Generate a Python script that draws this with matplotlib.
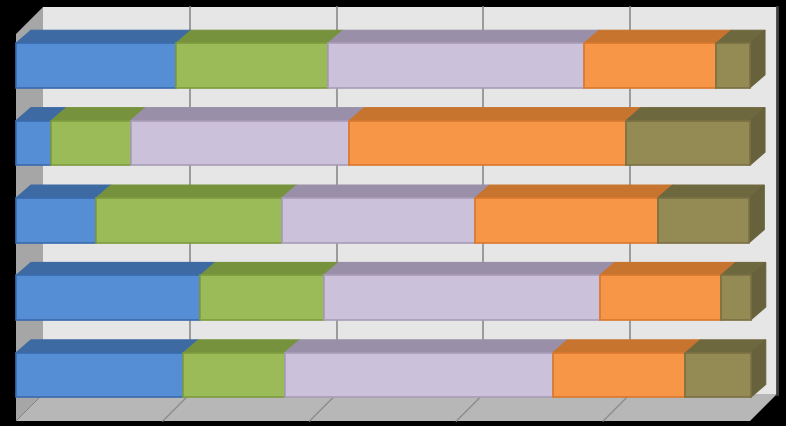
import matplotlib
matplotlib.use("Agg")
import matplotlib.pyplot as plt
from matplotlib.patches import Polygon
import numpy as np

# Rows listed top to bottom as displayed (percent shares, 100% stacked)
categories = ["Row 1", "Row 2", "Row 3", "Row 4", "Row 5"]
series_a = [21.8, 4.8, 10.9, 25.1, 22.8]
series_b = [20.7, 10.8, 25.3, 16.8, 13.8]
series_c = [34.9, 29.8, 26.3, 37.6, 36.5]
series_d = [18.0, 37.7, 24.9, 16.5, 18.1]
series_e = [4.6, 16.9, 12.5, 4.1, 8.9]
series = [series_a, series_b, series_c, series_d, series_e]

front_colors = ["#558ED5", "#9BBB59", "#CCC1DA", "#F79646", "#948A54"]
top_colors = ["#3D6AA3", "#76923C", "#9A8FA8", "#C7742F", "#6E683F"]
side_colors = ["#3A649A", "#6E8A37", "#8F859C", "#B86A2A", "#68623C"]
edge_colors = ["#3A6AAE", "#7E9C3E", "#A99DB9", "#D9792E", "#7A7042"]

W, H = 786, 427
fig = plt.figure(figsize=(W / 100, H / 100), dpi=100)
fig.patch.set_facecolor("black")
ax = fig.add_axes([0, 0, 1, 1])
ax.set_facecolor("black")
ax.axis("off")

# Scales: x in percent, y in category index (0 = top)
px_per_x = 7.34
x0_px = 16
xmin = -x0_px / px_per_x
ax.set_xlim(xmin, xmin + W / px_per_x)
row_step = 77.4
y0_px = 66.5
ax.set_ylim((H - y0_px) / row_step, -y0_px / row_step)

def dxu(px):
    return px / px_per_x

def dyu(px):
    return px / row_step

# Walls
wdx, wdy = dxu(27), dyu(27)
floor_front = (422 - y0_px) / row_step
wall_top_front = (35 - y0_px) / row_step
back_bottom = floor_front - wdy
back_top = wall_top_front - wdy

# back wall
ax.add_patch(Polygon([(wdx, back_top), (100 + wdx, back_top), (100 + wdx, back_bottom), (wdx, back_bottom)],
                     closed=True, facecolor="#E6E6E6", edgecolor="none", zorder=1))
# left wall
ax.add_patch(Polygon([(0, wall_top_front), (wdx, back_top), (wdx, back_bottom), (0, floor_front)],
                     closed=True, facecolor="#A6A6A6", edgecolor="none", zorder=1))
# floor
ax.add_patch(Polygon([(0, floor_front), (wdx, back_bottom), (100 + wdx, back_bottom), (100, floor_front)],
                     closed=True, facecolor="#B7B7B7", edgecolor="none", zorder=1))
# right edge of back wall
ax.plot([100 + wdx, 100 + wdx], [back_top, back_bottom], color="#404040", lw=2, zorder=1.5)

# gridlines
for g in [20, 40, 60, 80]:
    ax.plot([g + wdx, g + wdx], [back_top, back_bottom], color="#8C8C8C", lw=1.2, zorder=1.5)
    ax.plot([g + wdx, g], [back_bottom, floor_front], color="#8C8C8C", lw=1.0, zorder=1.5)

# bars
bh = 44.5 / row_step
bdx, bdy = dxu(15), dyu(13)
for i in range(len(categories)):
    yc = i
    ytop, ybot = yc - bh / 2, yc + bh / 2
    left = 0.0
    n = len(series)
    for k in range(n):
        v = series[k][i]
        right = left + v
        ec = edge_colors[k]
        # top face
        ax.add_patch(Polygon([(left, ytop), (left + bdx, ytop - bdy), (right + bdx, ytop - bdy), (right, ytop)],
                             closed=True, facecolor=top_colors[k], edgecolor=top_colors[k], lw=0.8, zorder=3))
        if k == n - 1:
            ax.add_patch(Polygon([(right, ytop), (right + bdx, ytop - bdy), (right + bdx, ybot - bdy), (right, ybot)],
                                 closed=True, facecolor=side_colors[k], edgecolor=side_colors[k], lw=0.8, zorder=3))
        ax.add_patch(Polygon([(left, ytop), (right, ytop), (right, ybot), (left, ybot)],
                             closed=True, facecolor=front_colors[k], edgecolor=ec, lw=1.2, zorder=4))
        left = right

fig.savefig("out.png", dpi=100, facecolor="black")
